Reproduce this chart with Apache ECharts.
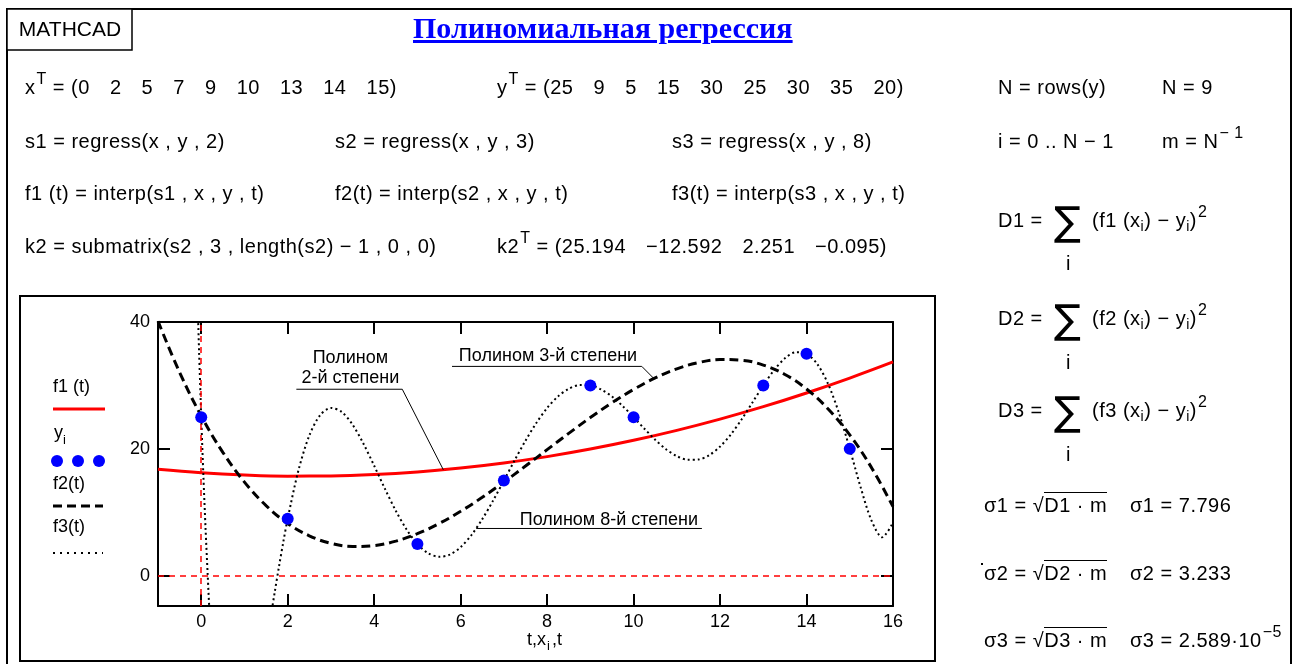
<!DOCTYPE html>
<html>
<head>
<meta charset="utf-8">
<script src="https://cdn.jsdelivr.net/npm/echarts@6/dist/echarts.min.js"></script>
<style>
  html, body { margin: 0; padding: 0; background: #fff; }
  #page { position: relative; width: 1297px; height: 664px; overflow: hidden; }
  #chart { position: absolute; left: 0; top: 0; width: 1297px; height: 664px; }
  .m { position: absolute; font-family: 'Liberation Sans', Arial, sans-serif; font-size: 20px; letter-spacing: 0.5px;
       line-height: 24px; white-space: pre; color: #000; }
  .m sup { font-size: 16px; position: relative; top: -10px; vertical-align: baseline; margin-left: 1px; }
  .m sub { font-size: 14px; position: relative; top: 4px; vertical-align: baseline; }
  .vec { word-spacing: 14px; }
  .title { position: absolute; left: 413px; top: 11px; font-family: 'Liberation Serif', 'Times New Roman', serif;
           font-weight: bold; font-size: 30px; color: #0000ff; text-decoration: underline; white-space: pre; }
  .sig { position: absolute; font-family: 'DejaVu Sans', sans-serif; font-size: 40px; line-height: 40px; }
  .ov { border-top: 1.5px solid #000; padding-top: 1px; }
</style>
</head>
<body>
<div id="page">
  <div id="chart"></div>

  <div class="title">Полиномиальная регрессия</div>

  <div class="m" style="left:25px;top:75px">x<sup>T</sup> = (<span class="vec">0 2 5 7 9 10 13 14 15</span>)</div>
  <div class="m" style="left:497px;top:75px">y<sup>T</sup> = (<span class="vec">25 9 5 15 30 25 30 35 20</span>)</div>
  <div class="m" style="left:998px;top:75px">N = rows(y)</div>
  <div class="m" style="left:1162px;top:75px">N = 9</div>

  <div class="m" style="left:25px;top:129px">s1 = regress(x , y , 2)</div>
  <div class="m" style="left:335px;top:129px">s2 = regress(x , y , 3)</div>
  <div class="m" style="left:672px;top:129px">s3 = regress(x , y , 8)</div>
  <div class="m" style="left:998px;top:129px">i = 0 .. N − 1</div>
  <div class="m" style="left:1162px;top:129px">m = N<sup>− 1</sup></div>

  <div class="m" style="left:25px;top:181px">f1 (t) = interp(s1 , x , y , t)</div>
  <div class="m" style="left:335px;top:181px">f2(t) = interp(s2 , x , y , t)</div>
  <div class="m" style="left:672px;top:181px">f3(t) = interp(s3 , x , y , t)</div>

  <div class="m" style="left:25px;top:234px">k2 = submatrix(s2 , 3 , length(s2) − 1 , 0 , 0)</div>
  <div class="m" style="left:497px;top:234px">k2<sup>T</sup> = (<span class="vec">25.194 −12.592 2.251 −0.095</span>)</div>

  <!-- sums of squared deviations -->
  <div class="m" style="left:998px;top:208px">D1 =</div>
  <div class="sig" style="left:1054px;top:201px">∑</div>
  <div class="m" style="left:1066px;top:251px">i</div>
  <div class="m" style="left:1092px;top:208px">(f1 (x<sub>i</sub>) − y<sub>i</sub>)<sup>2</sup></div>

  <div class="m" style="left:998px;top:306px">D2 =</div>
  <div class="sig" style="left:1054px;top:299px">∑</div>
  <div class="m" style="left:1066px;top:350px">i</div>
  <div class="m" style="left:1092px;top:306px">(f2 (x<sub>i</sub>) − y<sub>i</sub>)<sup>2</sup></div>

  <div class="m" style="left:998px;top:398px">D3 =</div>
  <div class="sig" style="left:1054px;top:391px">∑</div>
  <div class="m" style="left:1066px;top:442px">i</div>
  <div class="m" style="left:1092px;top:398px">(f3 (x<sub>i</sub>) − y<sub>i</sub>)<sup>2</sup></div>

  <!-- standard deviations -->
  <div class="m" style="left:984px;top:493px">σ1 = √<span class="ov">D1 · m</span></div>
  <div class="m" style="left:1130px;top:493px">σ1 = 7.796</div>
  <div class="m" style="left:984px;top:561px">σ2 = √<span class="ov">D2 · m</span></div>
  <div class="m" style="left:1130px;top:561px">σ2 = 3.233</div>
  <div class="m" style="left:984px;top:628px">σ3 = √<span class="ov">D3 · m</span></div>
  <div class="m" style="left:1130px;top:628px">σ3 = 2.589·10<sup>−5</sup></div>
  <div style="position:absolute;left:981px;top:563px;width:2px;height:2px;background:#000"></div>
</div>

<script>
// Measured points
const xData = [0, 2, 5, 7, 9, 10, 13, 14, 15];
const yData = [25, 9, 5, 15, 30, 25, 30, 35, 20];

// f1(t): 2nd-degree regression curve
const f1T = [-1, 0, 1, 2, 3, 4, 5, 6, 7, 8, 9, 10, 11, 12, 13, 14, 15, 16];
const f1V = [16.77, 16.22, 15.87, 15.70, 15.73, 15.95, 16.37, 16.98, 17.78, 18.78, 19.97, 21.35, 22.92, 24.69, 26.65, 28.81, 31.16, 33.70];

// f2(t): 3rd-degree regression curve
const f2T = [-1, -0.5, 0, 0.5, 1, 1.5, 2, 2.5, 3, 3.5, 4, 4.5, 5, 5.5, 6, 6.5, 7, 7.5, 8,
             8.5, 9, 9.5, 10, 10.5, 11, 11.5, 12, 12.5, 13, 13.5, 14, 14.5, 15, 15.5, 16];
const f2V = [40.13, 32.06, 25.19, 19.45, 14.76, 11.05, 8.25, 6.30, 5.11, 4.62, 4.76, 5.45, 6.63, 8.22, 10.16, 12.36, 14.76, 17.29, 19.88,
             22.45, 24.94, 27.27, 29.37, 31.18, 32.61, 33.60, 34.08, 33.97, 33.21, 31.73, 29.44, 26.28, 22.19, 17.08, 10.89];

// f3(t): 8th-degree curve through all points
const f3T = [-0.1, -0.05, 0, 0.05, 0.1, 0.15, 0.2, 0.5, 1.0, 1.5, 1.6, 1.7, 1.8, 1.9, 2,
             2.25, 2.5, 2.75, 3, 3.25, 3.5, 3.75, 4, 4.25, 4.5, 4.75, 5, 5.25, 5.5, 5.75, 6,
             6.25, 6.5, 6.75, 7, 7.25, 7.5, 7.75, 8, 8.25, 8.5, 8.75, 9, 9.25, 9.5, 9.75, 10,
             10.25, 10.5, 10.75, 11, 11.25, 11.5, 11.75, 12, 12.25, 12.5, 12.75, 13, 13.25, 13.5, 13.75, 14,
             14.25, 14.5, 14.75, 15, 15.25, 15.5, 15.75, 16];
const f3V = [46.92, 35.38, 25, 15.70, 7.42, 0.08, -6.37, -29.62, -30.23, -11.16, -6.83, -2.58, 1.51, 5.39, 9,
             16.65, 22.11, 25.32, 26.45, 25.82, 23.81, 20.84, 17.34, 13.69, 10.24, 7.28, 5, 3.55, 2.99, 3.33, 4.51,
             6.42, 8.92, 11.84, 15, 18.21, 21.29, 24.08, 26.44, 28.26, 29.47, 30.05, 30, 29.37, 28.25, 26.74, 25,
             23.18, 21.44, 19.95, 18.86, 18.28, 18.32, 19.01, 20.36, 22.28, 24.66, 27.32, 30, 32.42, 34.27, 35.23, 35,
             33.36, 30.22, 25.65, 20, 13.98, 8.75, 6.06, 8.38];

// Axis ranges and tick labels
const tRange = [-1, 16];
const vRange = [-4.77, 40];
const xTickLabels = ['0', '2', '4', '6', '8', '10', '12', '14', '16'];
const yTickLabels = ['0', '20', '40'];

const FONT = "'Liberation Sans', Arial, sans-serif";
const pairs = (ts, vs) => ts.map((t, i) => [t, vs[i]]);

const chart = echarts.init(document.getElementById('chart'));

const axisCommon = {
  type: 'value',
  axisLine: { onZero: false, lineStyle: { color: '#000', width: 2 } },
  axisTick: { inside: true, length: 12, lineStyle: { color: '#000', width: 2 } },
  splitLine: { show: false }
};

chart.setOption({
  animation: false,
  grid: { left: 158, top: 322, width: 735, height: 284 },
  xAxis: [
    Object.assign({}, axisCommon, {
      min: tRange[0], max: tRange[1], splitNumber: 8, position: 'bottom',
      axisLabel: { color: '#000', fontSize: 18, fontFamily: FONT, margin: 7,
        formatter: v => (xTickLabels.includes(String(v)) ? String(v) : '') }
    }),
    Object.assign({}, axisCommon, {
      min: tRange[0], max: tRange[1], splitNumber: 8, position: 'top', axisLabel: { show: false }
    })
  ],
  yAxis: [
    Object.assign({}, axisCommon, {
      min: vRange[0], max: vRange[1], splitNumber: 2, position: 'left',
      axisLabel: { color: '#000', fontSize: 18, fontFamily: FONT, margin: 8,
        formatter: v => (yTickLabels.includes(String(v)) ? String(v) : '') }
    }),
    Object.assign({}, axisCommon, {
      min: vRange[0], max: vRange[1], splitNumber: 2, position: 'right', axisLabel: { show: false }
    })
  ],
  series: [
    {
      name: 'f1(t)', type: 'line', data: pairs(f1T, f1V), smooth: 0.4, showSymbol: false,
      lineStyle: { color: '#ff0000', width: 3 }, z: 3
    },
    {
      name: 'f2(t)', type: 'line', data: pairs(f2T, f2V), smooth: 0.4, showSymbol: false,
      lineStyle: { color: '#000', width: 3, type: [9, 5] }, z: 4
    },
    {
      name: 'f3(t)', type: 'line', data: pairs(f3T, f3V), smooth: 0.3, showSymbol: false,
      lineStyle: { color: '#000', width: 2, type: [2, 3] }, z: 4
    },
    {
      name: 'yi', type: 'scatter', data: pairs(xData, yData), symbolSize: 12,
      itemStyle: { color: '#0000ff', opacity: 1 }, z: 5,
      markLine: {
        silent: true, symbol: ['none', 'none'], label: { show: false },
        lineStyle: { color: '#ff0000', width: 1.5, type: [6, 5], opacity: 1 },
        data: [{ xAxis: 0 }, { yAxis: 0 }]
      }
    }
  ]
});

// Annotations anchored in data coordinates
const P = (t, v) => chart.convertToPixel({ gridIndex: 0 }, [t, v]);
const annotations = [
  { text: ['Полином', '2-й степени'], at: [3.45, 34.3], lineGap: 20,
    path: [[2.2, 29.4], [4.65, 29.4], [5.6, 16.7]] },
  { text: ['Полином 3-й степени'], at: [8.02, 34.7], lineGap: 0,
    path: [[5.8, 33.0], [10.19, 33.0], [10.47, 31.08]] },
  { text: ['Полином 8-й степени'], at: [9.43, 8.8], lineGap: 0,
    path: [[6.36, 7.45], [11.58, 7.45]] }
];

const graphics = [];
// page frame
graphics.push({ type: 'polyline', shape: { points: [[7, 664], [7, 9], [1291, 9], [1291, 664]] },
  style: { stroke: '#000', lineWidth: 2, fill: null } });
graphics.push({ type: 'rect', shape: { x: 7, y: 9, width: 125, height: 41 },
  style: { stroke: '#000', lineWidth: 1.5, fill: '#fff' } });
graphics.push({ type: 'text', x: 70, y: 30, style: { text: 'MATHCAD', font: '21px ' + FONT, fill: '#000',
  textAlign: 'center', textVerticalAlign: 'middle' } });
// plot frame
graphics.push({ type: 'rect', shape: { x: 20, y: 296, width: 915, height: 365 },
  style: { stroke: '#000', lineWidth: 2, fill: null } });

// legend
const lg = (txt, x, y) => ({ type: 'text', x, y, style: { text: txt, font: '18px ' + FONT, fill: '#000',
  textAlign: 'left', textVerticalAlign: 'middle' } });
graphics.push(lg('f1 (t)', 53, 387));
graphics.push({ type: 'line', shape: { x1: 53, y1: 409, x2: 105, y2: 409 }, style: { stroke: '#ff0000', lineWidth: 3 } });
graphics.push(lg('y', 54, 433));
graphics.push({ type: 'text', x: 63, y: 440, style: { text: 'i', font: '13px ' + FONT, fill: '#000', textVerticalAlign: 'middle' } });
[57, 78, 99].forEach(cx => graphics.push({ type: 'circle', shape: { cx, cy: 461, r: 6 }, style: { fill: '#0000ff' } }));
graphics.push(lg('f2(t)', 53, 484));
graphics.push({ type: 'line', shape: { x1: 53, y1: 506, x2: 103, y2: 506 }, style: { stroke: '#000', lineWidth: 3, lineDash: [9, 5] } });
graphics.push(lg('f3(t)', 53, 527));
graphics.push({ type: 'line', shape: { x1: 53, y1: 553, x2: 103, y2: 553 }, style: { stroke: '#000', lineWidth: 2, lineDash: [2, 5] } });

// x axis title
graphics.push({ type: 'text', x: 527, y: 640, style: { text: 't,x', font: '18px ' + FONT, fill: '#000', textVerticalAlign: 'middle' } });
graphics.push({ type: 'text', x: 547, y: 646, style: { text: 'i', font: '13px ' + FONT, fill: '#000', textVerticalAlign: 'middle' } });
graphics.push({ type: 'text', x: 552, y: 640, style: { text: ',t', font: '18px ' + FONT, fill: '#000', textVerticalAlign: 'middle' } });

annotations.forEach(a => {
  const c = P(a.at[0], a.at[1]);
  a.text.forEach((s, k) => graphics.push({ type: 'text', x: c[0], y: c[1] + k * a.lineGap,
    style: { text: s, font: '18px ' + FONT, fill: '#000', textAlign: 'center', textVerticalAlign: 'middle' }, z: 10 }));
  graphics.push({ type: 'polyline', shape: { points: a.path.map(p => P(p[0], p[1])) },
    style: { stroke: '#000', lineWidth: 1, fill: null }, z: 10 });
});

chart.setOption({ graphic: graphics });
</script>
</body>
</html>
